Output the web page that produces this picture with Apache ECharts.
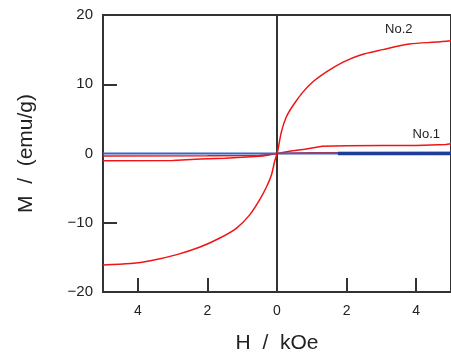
<!DOCTYPE html>
<html>
<head>
<meta charset="utf-8">
<script src="https://cdn.jsdelivr.net/npm/echarts@6/dist/echarts.min.js"></script>
<style>
  html, body { margin: 0; padding: 0; background: #fff; }
  #chart { width: 451px; height: 360px; }
</style>
</head>
<body>
<div id="chart"></div>
<script>
// No.2 曲线 (H / kOe, M / emu/g)
var no2H = [-5, -4.2, -3.64, -2.88, -2.21, -1.64, -1.17, -0.79, -0.5, -0.3, -0.16, -0.07, 0, 0.03, 0.13, 0.27, 0.47, 0.75, 1.04, 1.42, 1.9, 2.38, 3.04, 3.81, 4.58, 5];
var no2M = [-16.1, -15.9, -15.5, -14.6, -13.5, -12.2, -10.8, -8.9, -6.7, -4.8, -3.1, -1.2, 0, 0.6, 3.2, 5.3, 7.0, 8.9, 10.4, 11.8, 13.2, 14.2, 15.0, 15.8, 16.1, 16.3];
// No.1 曲线
var no1H = [-5, -3, -2.2, -1.5, -1, -0.4, 0, 0.4, 0.8, 1.3, 2, 3, 4, 4.85, 5];
var no1M = [-1.05, -1.02, -0.8, -0.68, -0.55, -0.35, 0, 0.35, 0.6, 1.05, 1.12, 1.15, 1.17, 1.3, 1.4];
var no1bH = [-5, -2, -0.5, 0, 1, 5];
var no1bM = [-0.35, -0.33, -0.3, 0, 0.1, 0.15];
// 基准线 (蓝)
var baseH = [-5, 5];
var baseM = [0, 0];
var baseDarkH = [1.75, 5];
var baseDarkM = [0, 0];

var xLabelValues = [-4, -2, 0, 2, 4];
var xTickValues = [-4, -2, 2, 4];
var yTickValues = [-10, 10];

var FONT = "'Liberation Sans', 'Noto Sans CJK JP', sans-serif";

function zip(xs, ys){
    var out = [];
    for(var i = 0; i < xs.length; i++){
        out.push([xs[i], ys[i]]);
    }
    return out;
}

var chart = echarts.init(document.getElementById('chart'));
chart.setOption({
    animation: false,
    grid: {
        left: 103, top: 15, right: -1, bottom: 68,
        show: true,
        borderColor: '#333',
        borderWidth: 2
    },
    xAxis: {
        type: 'value',
        min: -5, max: 5,
        name: 'H  /  kOe',
        nameLocation: 'middle',
        nameGap: 41,
        nameTextStyle: { fontFamily: FONT, fontSize: 21, color: '#222' },
        axisLine: { onZero: false, lineStyle: { color: '#333', width: 2 } },
        axisTick: { inside: true, length: 14, customValues: xTickValues, lineStyle: { color: '#333', width: 2 } },
        axisLabel: {
            customValues: xLabelValues,
            margin: 12,
            fontFamily: FONT, fontSize: 14, color: '#222',
            formatter: function(v){ return String(Math.abs(v)); }
        },
        splitLine: { show: false }
    },
    yAxis: {
        type: 'value',
        min: -20, max: 20, interval: 10,
        name: 'M  /  (emu/g)',
        nameLocation: 'middle',
        nameGap: 66,
        nameTextStyle: { fontFamily: FONT, fontSize: 21, color: '#222' },
        axisLine: { onZero: false, lineStyle: { color: '#333', width: 2 } },
        axisTick: { inside: true, length: 14, customValues: yTickValues, lineStyle: { color: '#333', width: 2 } },
        axisLabel: {
            margin: 10,
            fontFamily: FONT, fontSize: 15, color: '#222',
            formatter: function(v){ return v < 0 ? '\u2212' + Math.abs(v) : String(v); }
        },
        splitLine: { show: false }
    },
    series: [
        {
            name: 'base',
            type: 'line',
            data: zip(baseH, baseM),
            showSymbol: false,
            lineStyle: { color: '#3f63bf', width: 2 },
            z: 3,
            markLine: {
                silent: true,
                symbol: 'none',
                label: { show: false },
                lineStyle: { color: '#333', width: 2, type: 'solid' },
                data: [{ xAxis: 0 }]
            }
        },
        {
            name: 'No.1b',
            type: 'line',
            data: zip(no1bH, no1bM),
            showSymbol: false,
            lineStyle: { color: '#f01414', width: 1.5 },
            z: 2
        },
        {
            name: 'No.1',
            type: 'line',
            data: zip(no1H, no1M),
            showSymbol: false,
            lineStyle: { color: '#f01414', width: 1.5 },
            z: 2,
            markPoint: {
                symbolSize: 0,
                label: { show: true, position: 'inside', formatter: 'No.1', fontFamily: FONT, fontSize: 13, color: '#222' },
                data: [{ coord: [4.29, 2.8] }]
            }
        },
        {
            name: 'baseDark',
            type: 'line',
            data: zip(baseDarkH, baseDarkM),
            showSymbol: false,
            lineStyle: { color: '#1d3c9c', width: 3.5 },
            z: 4
        },
        {
            name: 'No.2',
            type: 'line',
            data: zip(no2H, no2M),
            showSymbol: false,
            smooth: 0.3,
            lineStyle: { color: '#f01414', width: 1.5 },
            z: 5,
            markPoint: {
                symbolSize: 0,
                label: { show: true, position: 'inside', formatter: 'No.2', fontFamily: FONT, fontSize: 13, color: '#222' },
                data: [{ coord: [3.5, 17.9] }]
            }
        }
    ]
});
</script>
</body>
</html>
